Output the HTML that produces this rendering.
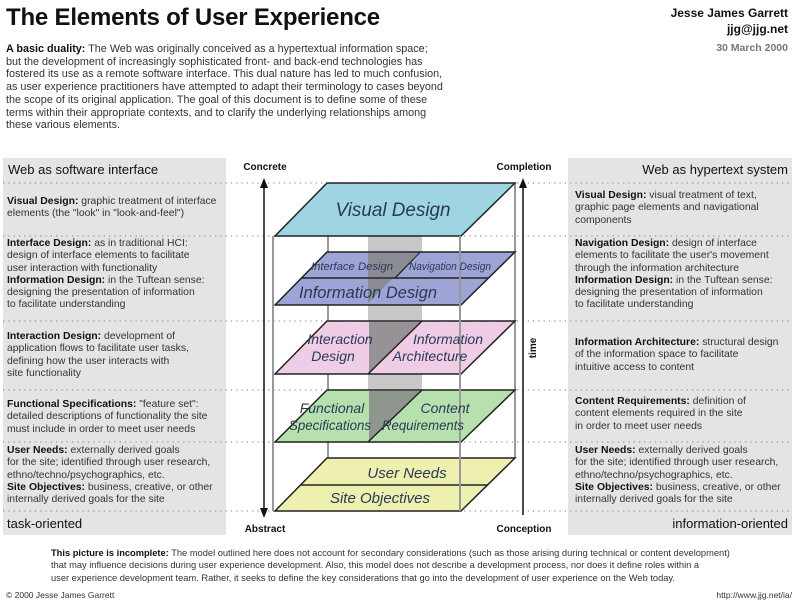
<!DOCTYPE html>
<html><head><meta charset="utf-8"><style>
body{margin:0;width:800px;height:609px;background:#fff;position:relative;overflow:hidden;font-family:"Liberation Sans",sans-serif;color:#333}
.a{position:absolute;font-size:10.4px;line-height:12.3px;white-space:nowrap}
b{color:#111}
.h{position:absolute;font-size:13px;color:#111}
.p{position:absolute;background:#e4e4e4}
</style></head><body>
<div class="p" style="left:3px;top:158px;width:223px;height:377px"></div>
<div class="p" style="left:568px;top:158px;width:224px;height:377px"></div>
<div style="position:absolute;left:6px;top:4px;font-size:24px;font-weight:bold;color:#111;letter-spacing:-0.2px">The Elements of User Experience</div>
<div style="position:absolute;right:12px;top:5px;text-align:right;font-size:12px;font-weight:bold;color:#111;line-height:16px">Jesse James Garrett<br>jjg@jjg.net<br><span style="color:#777;font-size:10.5px;line-height:22px">30 March 2000</span></div>
<div class="a" style="left:6px;top:43px;font-size:10.8px;line-height:12.7px"><b>A basic duality:</b> The Web was originally conceived as a hypertextual information space;<br>but the development of increasingly sophisticated front- and back-end technologies has<br>fostered its use as a remote software interface. This dual nature has led to much confusion,<br>as user experience practitioners have attempted to adapt their terminology to cases beyond<br>the scope of its original application. The goal of this document is to define some of these<br>terms within their appropriate contexts, and to clarify the underlying relationships among<br>these various elements.</div>

<svg style="position:absolute;left:0;top:0" width="800" height="609">
<g stroke="#999" stroke-width="1.3" stroke-dasharray="1.3 4" fill="none">
<line x1="3" y1="183" x2="792" y2="183"/><line x1="3" y1="236" x2="792" y2="236"/>
<line x1="3" y1="321" x2="792" y2="321"/><line x1="3" y1="390" x2="792" y2="390"/>
<line x1="3" y1="442" x2="792" y2="442"/><line x1="3" y1="511" x2="792" y2="511"/>
</g>
<g stroke="#999" stroke-width="2" fill="none">
<line x1="328" y1="183" x2="328" y2="458"/><line x1="515" y1="183" x2="515" y2="458"/>
</g>
<rect x="368" y="236" width="54" height="154" fill="#c8c8c8"/>
<g stroke="#222" stroke-width="1.5">
<polygon points="327,183 515,183 461,236 275,236" fill="#9fd5e3"/>
<polygon points="327,252 515,252 461,305 275,305" fill="#9ea4d6"/>
<line x1="301" y1="278" x2="488" y2="278"/>
<line x1="420" y1="252" x2="395" y2="278"/>
<polygon points="327,321 515,321 461,374 275,374" fill="#efcde6"/>
<polygon points="327,390 515,390 461,442 275,442" fill="#b6e0ae"/>
<polygon points="327,458 515,458 461,511 275,511" fill="#eef0b0"/>
<line x1="301" y1="485" x2="488" y2="485"/>
</g>
<g fill="#888" opacity="0.85">
<polygon points="368,253 419,253 395,277 368,277"/>
<polygon points="368,279 392,279 368,303"/>
<polygon points="369,322 420,322 369,373"/>
<polygon points="369,391 420,391 369,441"/>
</g>
<g stroke="#222" stroke-width="1.5"><line x1="422" y1="321" x2="368" y2="374"/><line x1="422" y1="390" x2="368" y2="442"/></g>
<g stroke="#999" stroke-width="2" fill="none">
<line x1="273" y1="236" x2="273" y2="511"/><line x1="460" y1="236" x2="460" y2="511"/>
</g>
<g font-family="Liberation Sans,sans-serif" font-style="italic" fill="#2a3a55" text-anchor="middle">
<text x="393" y="216" font-size="19" textLength="115" lengthAdjust="spacingAndGlyphs">Visual Design</text>
<text x="352" y="270" font-size="11" textLength="82" lengthAdjust="spacingAndGlyphs">Interface Design</text>
<text x="450" y="270" font-size="11" textLength="82" lengthAdjust="spacingAndGlyphs">Navigation Design</text>
<text x="368" y="298" font-size="17" textLength="138" lengthAdjust="spacingAndGlyphs">Information Design</text>
<text x="340" y="344" font-size="14">Interaction</text>
<text x="333" y="361" font-size="14">Design</text>
<text x="448" y="344" font-size="14">Information</text>
<text x="430" y="361" font-size="14">Architecture</text>
<text x="332" y="413" font-size="14">Functional</text>
<text x="330" y="430" font-size="14" textLength="82" lengthAdjust="spacingAndGlyphs">Specifications</text>
<text x="445" y="413" font-size="14">Content</text>
<text x="423" y="430" font-size="14" textLength="82" lengthAdjust="spacingAndGlyphs">Requirements</text>
<text x="407" y="478" font-size="15">User Needs</text>
<text x="380" y="503" font-size="15">Site Objectives</text>
</g>
<g stroke="#111" stroke-width="1.5"><line x1="264" y1="186" x2="264" y2="510"/><line x1="523" y1="186" x2="523" y2="515"/></g>
<polygon points="264,178 260,188 268,188" fill="#111"/><polygon points="264,518 260,508 268,508" fill="#111"/>
<polygon points="523,178 519,188 527,188" fill="#111"/>
<g font-family="Liberation Sans,sans-serif" font-weight="bold" font-size="10" fill="#111" text-anchor="middle">
<text x="265" y="170">Concrete</text><text x="524" y="170">Completion</text>
<text x="265" y="532">Abstract</text><text x="524" y="532">Conception</text>
<text transform="translate(536,348) rotate(-90)">time</text>
</g>
</svg>

<div class="h" style="left:8px;top:162px">Web as software interface</div>
<div class="a" style="left:7px;top:196px"><b>Visual Design:</b> graphic treatment of interface<br>elements (the "look" in "look-and-feel")</div>
<div class="a" style="left:7px;top:238px"><b>Interface Design:</b> as in traditional HCI:<br>design of interface elements to facilitate<br>user interaction with functionality<br><b>Information Design:</b> in the Tuftean sense:<br>designing the presentation of information<br>to facilitate understanding</div>
<div class="a" style="left:7px;top:331px"><b>Interaction Design:</b> development of<br>application flows to facilitate user tasks,<br>defining how the user interacts with<br>site functionality</div>
<div class="a" style="left:7px;top:399px"><b>Functional Specifications:</b> "feature set":<br>detailed descriptions of functionality the site<br>must include in order to meet user needs</div>
<div class="a" style="left:7px;top:445px"><b>User Needs:</b> externally derived goals<br>for the site; identified through user research,<br>ethno/techno/psychographics, etc.<br><b>Site Objectives:</b> business, creative, or other<br>internally derived goals for the site</div>
<div class="h" style="left:7px;top:516px">task-oriented</div>

<div class="h" style="right:12px;top:162px">Web as hypertext system</div>
<div class="a" style="left:575px;top:190px"><b>Visual Design:</b> visual treatment of text,<br>graphic page elements and navigational<br>components</div>
<div class="a" style="left:575px;top:238px"><b>Navigation Design:</b> design of interface<br>elements to facilitate the user's movement<br>through the information architecture<br><b>Information Design:</b> in the Tuftean sense:<br>designing the presentation of information<br>to facilitate understanding</div>
<div class="a" style="left:575px;top:337px"><b>Information Architecture:</b> structural design<br>of the information space to facilitate<br>intuitive access to content</div>
<div class="a" style="left:575px;top:396px"><b>Content Requirements:</b> definition of<br>content elements required in the site<br>in order to meet user needs</div>
<div class="a" style="left:575px;top:445px"><b>User Needs:</b> externally derived goals<br>for the site; identified through user research,<br>ethno/techno/psychographics, etc.<br><b>Site Objectives:</b> business, creative, or other<br>internally derived goals for the site</div>
<div class="h" style="right:12px;top:516px">information-oriented</div>

<div class="a" style="left:51px;top:547px;font-size:9.3px;line-height:12.4px"><b>This picture is incomplete:</b> The model outlined here does not account for secondary considerations (such as those arising during technical or content development)<br>that may influence decisions during user experience development. Also, this model does not describe a development process, nor does it define roles within a<br>user experience development team. Rather, it seeks to define the key considerations that go into the development of user experience on the Web today.</div>
<div class="a" style="left:6px;top:589px;font-size:8.5px">© 2000 Jesse James Garrett</div>
<div class="a" style="right:8px;top:589px;font-size:8.5px">http://www.jjg.net/ia/</div>
</body></html>
